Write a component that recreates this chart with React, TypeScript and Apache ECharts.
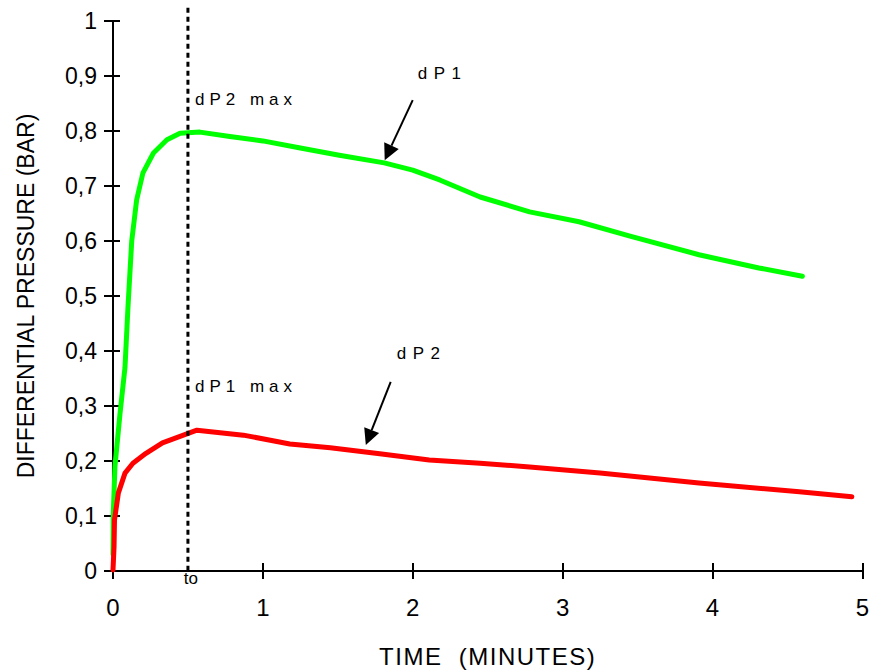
import React, { useEffect, useRef } from "react";
import * as echarts from "echarts";

// dP1 (green) — time in minutes, differential pressure in bar
const DP1_T = [0, 0.002, 0.013, 0.047, 0.08, 0.1, 0.125, 0.158, 0.2, 0.27, 0.36, 0.447, 0.58, 0.78, 1.0, 1.25, 1.51, 1.81, 2.0, 2.18, 2.45, 2.78, 3.11, 3.45, 3.91, 4.31, 4.6];
const DP1_V = [0.03, 0.105, 0.19, 0.287, 0.37, 0.48, 0.6, 0.675, 0.724, 0.76, 0.784, 0.796, 0.798, 0.79, 0.782, 0.769, 0.756, 0.742, 0.729, 0.711, 0.68, 0.653, 0.635, 0.609, 0.575, 0.551, 0.536];

// dP2 (red)
const DP2_T = [0, 0.007, 0.01, 0.036, 0.08, 0.133, 0.22, 0.33, 0.47, 0.56, 0.87, 1.18, 1.45, 1.78, 2.11, 2.45, 2.78, 3.25, 3.91, 4.58, 4.93];
const DP2_V = [0.002, 0.044, 0.093, 0.142, 0.178, 0.196, 0.214, 0.233, 0.247, 0.256, 0.247, 0.231, 0.224, 0.213, 0.202, 0.196, 0.189, 0.178, 0.16, 0.144, 0.135];

// axis ranges / ticks
const X_MIN = 0, X_MAX = 5, X_STEP = 1;
const Y_MIN = 0, Y_MAX = 1, Y_STEP = 0.1;

// annotations (data coordinates)
const MARKER_T = 0.5;
const MARKER_TOP = 1.024;
const ARROWS: { from: [number, number]; to: [number, number] }[] = [
  { from: [2.0, 0.856], to: [1.813, 0.747] },
  { from: [1.853, 0.344], to: [1.687, 0.229] },
];
const LABELS: { text: string; at: [number, number]; spacing: number }[] = [
  { text: "dP2 max", at: [0.547, 0.858], spacing: 5 },
  { text: "dP1 max", at: [0.547, 0.335], spacing: 5 },
  { text: "dP1", at: [2.033, 0.905], spacing: 6.5 },
  { text: "dP2", at: [1.893, 0.396], spacing: 6.5 },
];
const TO_LABEL = { text: "to", at: [0.52, -0.0145] as [number, number] };
const X_TITLE = "TIME  (MINUTES)";
const Y_TITLE = "DIFFERENTIAL PRESSURE (BAR)";

const FONT = "'Liberation Sans', Arial, sans-serif";

export default function App() {
  const ref = useRef<HTMLDivElement>(null);

  useEffect(() => {
    const el = ref.current!;
    const chart = echarts.init(el, null, { renderer: "svg" });

    const fmtY = (v: number) => {
      const r = Math.round(v * 10) / 10;
      if (r === 0) return "0";
      if (r === 1) return "1";
      return r.toFixed(1).replace(".", ",");
    };

    const tickStyle = { color: "#000", width: 2 };

    const baseOption: any = {
      animation: false,
      grid: { left: 113, right: 9, top: 21, bottom: 101 },
      xAxis: [
        {
          type: "value", min: X_MIN, max: X_MAX, interval: X_STEP, position: "bottom",
          axisLine: { show: true, onZero: false, lineStyle: { color: "#000", width: 2 } },
          axisTick: { show: true, inside: false, length: 8, lineStyle: tickStyle },
          axisLabel: { fontSize: 24, color: "#000", margin: 24, fontFamily: FONT },
          splitLine: { show: false },
        },
        {
          type: "value", min: X_MIN, max: X_MAX, interval: X_STEP, position: "bottom",
          axisLine: { show: false, onZero: false },
          axisTick: { show: true, inside: true, length: 8, lineStyle: tickStyle },
          axisLabel: { show: false },
          splitLine: { show: false },
        },
      ],
      yAxis: [
        {
          type: "value", min: Y_MIN, max: Y_MAX, interval: Y_STEP, position: "left",
          axisLine: { show: true, onZero: false, lineStyle: { color: "#000", width: 2 } },
          axisTick: { show: true, inside: false, length: 9, lineStyle: tickStyle },
          axisLabel: { fontSize: 23, color: "#000", margin: 16, fontFamily: FONT, formatter: fmtY },
          splitLine: { show: false },
        },
        {
          type: "value", min: Y_MIN, max: Y_MAX, interval: Y_STEP, position: "left",
          axisLine: { show: false, onZero: false },
          axisTick: { show: true, inside: true, length: 7, lineStyle: tickStyle },
          axisLabel: { show: false },
          splitLine: { show: false },
        },
      ],
      series: [
        {
          type: "line", name: "dP1", xAxisIndex: 0, yAxisIndex: 0,
          data: DP1_T.map((t, i) => [t, DP1_V[i]]),
          symbol: "none", showSymbol: false, clip: false,
          lineStyle: { color: "#00ff00", width: 5, cap: "round", join: "round" },
          itemStyle: { color: "#00ff00" },
        },
        {
          type: "line", name: "dP2", xAxisIndex: 0, yAxisIndex: 0,
          data: DP2_T.map((t, i) => [t, DP2_V[i]]),
          symbol: "none", showSymbol: false, clip: false,
          lineStyle: { color: "#ff0000", width: 5, cap: "round", join: "round" },
          itemStyle: { color: "#ff0000" },
        },
      ],
    };

    chart.setOption(baseOption);

    const p = (t: number, v: number): number[] =>
      chart.convertToPixel({ xAxisIndex: 0, yAxisIndex: 0 }, [t, v]) as number[];

    const graphics: any[] = [];

    const top = p(MARKER_T, MARKER_TOP);
    const bot = p(MARKER_T, 0);
    graphics.push({
      type: "line", z: 5,
      shape: { x1: top[0], y1: top[1], x2: bot[0], y2: bot[1] },
      style: { stroke: "#000", lineWidth: 3, lineDash: [5, 4] },
    });

    const HEAD_L = 16, HEAD_W = 8;
    ARROWS.forEach((a) => {
      const f = p(a.from[0], a.from[1]);
      const t = p(a.to[0], a.to[1]);
      const dx = t[0] - f[0], dy = t[1] - f[1];
      const len = Math.hypot(dx, dy);
      const ux = dx / len, uy = dy / len;
      const bx = t[0] - ux * HEAD_L, by = t[1] - uy * HEAD_L;
      graphics.push({
        type: "line", z: 6,
        shape: { x1: f[0], y1: f[1], x2: bx, y2: by },
        style: { stroke: "#000", lineWidth: 2 },
      });
      graphics.push({
        type: "polygon", z: 6,
        shape: {
          points: [
            [t[0], t[1]],
            [bx - uy * HEAD_W, by + ux * HEAD_W],
            [bx + uy * HEAD_W, by - ux * HEAD_W],
          ],
        },
        style: { fill: "#000" },
      });
    });

    LABELS.forEach((l) => {
      const q = p(l.at[0], l.at[1]);
      graphics.push({
        type: "text", z: 7, x: q[0], y: q[1],
        style: { text: l.text, fontSize: 17, fontFamily: FONT, fill: "#000", textAlign: "left", textVerticalAlign: "middle" },
      });
    });

    const tq = p(TO_LABEL.at[0], TO_LABEL.at[1]);
    graphics.push({
      type: "text", z: 7, x: tq[0], y: tq[1],
      style: { text: TO_LABEL.text, fontSize: 17, fontFamily: FONT, fill: "#000", textAlign: "center", textVerticalAlign: "middle" },
    });

    const xMid = p((X_MIN + X_MAX) / 2, 0);
    graphics.push({
      type: "text", z: 7, x: xMid[0], y: 656,
      style: { text: X_TITLE, fontSize: 24, fontFamily: FONT, fill: "#000", textAlign: "center", textVerticalAlign: "middle" },
    });
    const yMid = p(0, (Y_MIN + Y_MAX) / 2);
    graphics.push({
      type: "text", z: 7, x: 26, y: yMid[1], rotation: Math.PI / 2,
      style: { text: Y_TITLE, fontSize: 23, fontFamily: FONT, fill: "#000", textAlign: "center", textVerticalAlign: "middle" },
    });

    chart.setOption({ graphic: graphics });

    const spacing: Record<string, number> = { [X_TITLE]: 1.5 };
    LABELS.forEach((l) => (spacing[l.text] = l.spacing));
    const applySpacing = () => {
      el.querySelectorAll("text").forEach((node) => {
        const s = spacing[node.textContent || ""];
        if (s) node.setAttribute("letter-spacing", String(s));
      });
    };
    applySpacing();
    chart.on("finished", applySpacing);
    const raf = requestAnimationFrame(applySpacing);

    return () => {
      cancelAnimationFrame(raf);
      chart.dispose();
    };
  }, []);

  return (
    <div
      ref={ref}
      style={{ position: "fixed", left: 0, top: 0, width: 872, height: 672, background: "#fff" }}
    />
  );
}
